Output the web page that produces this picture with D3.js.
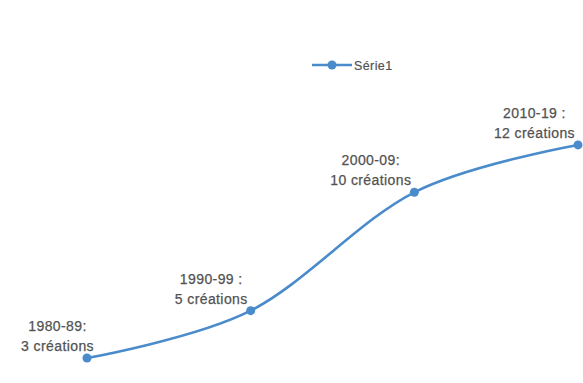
<!DOCTYPE html>
<html>
<head>
<meta charset="utf-8">
<script src="https://cdn.jsdelivr.net/npm/d3@7"></script>
<style>
  html, body { margin: 0; padding: 0; background: #fff; }
  svg { display: block; }
</style>
</head>
<body>
<svg id="chart" width="583" height="383"></svg>
<script>
// Décennies et nombre de créations
const periods = ["1980-89", "1990-99", "2000-09", "2010-19"];
const creations = [3, 5, 10, 12];
const labelHeads = ["1980-89:", "1990-99 :", "2000-09:", "2010-19 :"];
const seriesName = "Série1";

const W = 583, H = 383;
const color = "#4a8bcb";
const textColor = "#525252";
const font = "'Liberation Sans', Arial, sans-serif";

const svg = d3.select("#chart");

const x = d3.scalePoint().domain(periods).range([87, 578]);
const y = d3.scaleLinear().domain([0, 14]).range([429, 97.6]);

const pts = periods.map((p, i) => ({ p, v: creations[i], head: labelHeads[i], i }));

// Courbe lissée
const line = d3.line()
  .x(d => x(d.p))
  .y(d => y(d.v))
  .curve(d3.curveCardinal.tension(0));

svg.append("path")
  .datum(pts)
  .attr("d", line)
  .attr("fill", "none")
  .attr("stroke", color)
  .attr("stroke-width", 2.6)
  .attr("stroke-linecap", "round");

svg.selectAll("circle.pt")
  .data(pts)
  .join("circle")
  .attr("class", "pt")
  .attr("cx", d => x(d.p))
  .attr("cy", d => y(d.v))
  .attr("r", 4.5)
  .attr("fill", color);

// Étiquettes de données, placées à gauche de chaque point
const firstLabelShift = 10;
const labels = svg.selectAll("g.lbl")
  .data(pts)
  .join("g")
  .attr("class", "lbl")
  .attr("font-family", font)
  .attr("font-size", 14)
  .attr("letter-spacing", 0.4)
  .attr("fill", textColor)
  .attr("stroke", textColor)
  .attr("stroke-width", 0.25);

labels.each(function(d) {
  const g = d3.select(this);
  const t1 = g.append("text").text(d.head).attr("text-anchor", "middle");
  const t2 = g.append("text").text(`${d.v} créations`).attr("text-anchor", "middle");
  const w = Math.max(t1.node().getComputedTextLength(), t2.node().getComputedTextLength());
  const right = x(d.p) - 3 + (d.i === 0 ? firstLabelShift : 0);
  const cx = Math.min(right - w / 2, W - w / 2);
  const py = y(d.v);
  t1.attr("x", cx).attr("y", py - 27);
  t2.attr("x", cx).attr("y", py - 7);
});

// Légende
const legend = svg.append("g").attr("transform", "translate(312,65)");
legend.append("line")
  .attr("x1", 0).attr("x2", 40)
  .attr("y1", 0).attr("y2", 0)
  .attr("stroke", color).attr("stroke-width", 2.6);
legend.append("circle")
  .attr("cx", 20).attr("cy", 0).attr("r", 4.5).attr("fill", color);
legend.append("text")
  .attr("x", 42).attr("y", 4.5)
  .attr("font-family", font)
  .attr("font-size", 12.5)
  .attr("letter-spacing", 0.4)
  .attr("fill", textColor)
  .attr("stroke", textColor)
  .attr("stroke-width", 0.2)
  .text(seriesName);
</script>
</body>
</html>
